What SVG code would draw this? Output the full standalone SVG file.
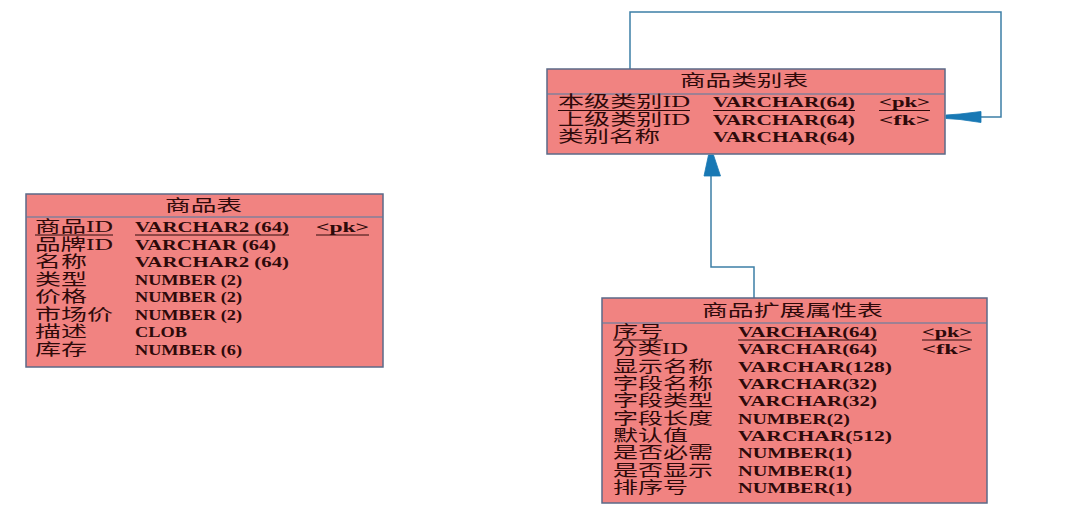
<svg xmlns="http://www.w3.org/2000/svg" width="1086" height="521" viewBox="0 0 1086 521">
<style>
.box{fill:#f18381;stroke:#5b6a88;stroke-width:1.5}
.sep{stroke:#4f7ea6;stroke-width:1.2}
.t{font-family:"Liberation Serif","Noto Sans CJK SC",serif;font-size:16px;fill:#2e0a0a}
.ty{font-family:"Liberation Serif","Noto Sans CJK SC",serif;font-size:15px;font-weight:bold;fill:#2e0a0a}
.h{font-family:"Noto Sans CJK SC",sans-serif;font-size:16px;fill:#2e0a0a}
.ul{stroke:#2e0a0a;stroke-width:1}
.c{fill:none;stroke:#3d7fa6;stroke-width:1.5}
.ah{fill:#1878b4;stroke:#1878b4;stroke-width:0.8}
</style>
<rect width="1086" height="521" fill="#ffffff"/>
<g id="connectors">
<path class="c" d="M630,69 V12 H1001 V117 H946"/>
<path class="c" d="M754,298 V267 H711 V155"/>
<polygon class="ah" points="946,115 960,114 981,111.5 981,122.5 960,119.5 946,118.5"/>
<polygon class="ah" points="708.5,155 713.5,155 720.5,176 704,176"/>
</g>
<g id="goods">
<rect class="box" x="26" y="194" width="357" height="173"/>
<line class="sep" x1="26" y1="217" x2="383" y2="217"/>
<text class="h" x="165" y="211" textLength="77" lengthAdjust="spacingAndGlyphs">商品表</text>
<text class="t" x="35" y="232" textLength="78" lengthAdjust="spacingAndGlyphs">商品ID</text>
<text class="ty" x="135" y="232" textLength="154" lengthAdjust="spacingAndGlyphs">VARCHAR2 (64)</text>
<text class="ty" x="316" y="232" textLength="53" lengthAdjust="spacingAndGlyphs">&lt;pk&gt;</text>
<line class="ul" x1="35" y1="235" x2="113" y2="235"/>
<line class="ul" x1="135" y1="235" x2="289" y2="235"/>
<line class="ul" x1="316" y1="235" x2="369" y2="235"/>
<text class="t" x="35" y="249.5" textLength="78" lengthAdjust="spacingAndGlyphs">品牌ID</text>
<text class="ty" x="135" y="249.5" textLength="141" lengthAdjust="spacingAndGlyphs">VARCHAR (64)</text>
<text class="t" x="35" y="267" textLength="52" lengthAdjust="spacingAndGlyphs">名称</text>
<text class="ty" x="135" y="267" textLength="154" lengthAdjust="spacingAndGlyphs">VARCHAR2 (64)</text>
<text class="t" x="35" y="284.5" textLength="52" lengthAdjust="spacingAndGlyphs">类型</text>
<text class="ty" x="135" y="284.5" textLength="107" lengthAdjust="spacingAndGlyphs">NUMBER (2)</text>
<text class="t" x="35" y="302" textLength="52" lengthAdjust="spacingAndGlyphs">价格</text>
<text class="ty" x="135" y="302" textLength="107" lengthAdjust="spacingAndGlyphs">NUMBER (2)</text>
<text class="t" x="35" y="319.5" textLength="78" lengthAdjust="spacingAndGlyphs">市场价</text>
<text class="ty" x="135" y="319.5" textLength="107" lengthAdjust="spacingAndGlyphs">NUMBER (2)</text>
<text class="t" x="35" y="337" textLength="52" lengthAdjust="spacingAndGlyphs">描述</text>
<text class="ty" x="135" y="337" textLength="52" lengthAdjust="spacingAndGlyphs">CLOB</text>
<text class="t" x="35" y="354.5" textLength="52" lengthAdjust="spacingAndGlyphs">库存</text>
<text class="ty" x="135" y="354.5" textLength="107" lengthAdjust="spacingAndGlyphs">NUMBER (6)</text>
</g>
<g id="category">
<rect class="box" x="547" y="69" width="398" height="85"/>
<line class="sep" x1="547" y1="94" x2="945" y2="94"/>
<text class="h" x="680" y="86" textLength="128" lengthAdjust="spacingAndGlyphs">商品类别表</text>
<text class="t" x="558" y="107" textLength="132" lengthAdjust="spacingAndGlyphs">本级类别ID</text>
<text class="ty" x="713" y="107" textLength="142" lengthAdjust="spacingAndGlyphs">VARCHAR(64)</text>
<text class="ty" x="879" y="107" textLength="51" lengthAdjust="spacingAndGlyphs">&lt;pk&gt;</text>
<line class="ul" x1="558" y1="110.5" x2="690" y2="110.5"/>
<line class="ul" x1="713" y1="110.5" x2="855" y2="110.5"/>
<line class="ul" x1="879" y1="110.5" x2="930" y2="110.5"/>
<text class="t" x="558" y="124.5" textLength="132" lengthAdjust="spacingAndGlyphs">上级类别ID</text>
<text class="ty" x="713" y="124.5" textLength="142" lengthAdjust="spacingAndGlyphs">VARCHAR(64)</text>
<text class="ty" x="879" y="124.5" textLength="51" lengthAdjust="spacingAndGlyphs">&lt;fk&gt;</text>
<text class="t" x="558" y="142" textLength="102" lengthAdjust="spacingAndGlyphs">类别名称</text>
<text class="ty" x="713" y="142" textLength="142" lengthAdjust="spacingAndGlyphs">VARCHAR(64)</text>
</g>
<g id="attributes">
<rect class="box" x="602" y="298" width="385" height="205"/>
<line class="sep" x1="602" y1="323" x2="987" y2="323"/>
<text class="h" x="702" y="316" textLength="181" lengthAdjust="spacingAndGlyphs">商品扩展属性表</text>
<text class="t" x="613" y="337" textLength="50" lengthAdjust="spacingAndGlyphs">序号</text>
<text class="ty" x="738" y="337" textLength="139" lengthAdjust="spacingAndGlyphs">VARCHAR(64)</text>
<text class="ty" x="922" y="337" textLength="50" lengthAdjust="spacingAndGlyphs">&lt;pk&gt;</text>
<line class="ul" x1="613" y1="340" x2="663" y2="340"/>
<line class="ul" x1="738" y1="340" x2="877" y2="340"/>
<line class="ul" x1="922" y1="340" x2="972" y2="340"/>
<text class="t" x="613" y="354.3" textLength="75" lengthAdjust="spacingAndGlyphs">分类ID</text>
<text class="ty" x="738" y="354.3" textLength="139" lengthAdjust="spacingAndGlyphs">VARCHAR(64)</text>
<text class="ty" x="922" y="354.3" textLength="50" lengthAdjust="spacingAndGlyphs">&lt;fk&gt;</text>
<text class="t" x="613" y="371.7" textLength="100" lengthAdjust="spacingAndGlyphs">显示名称</text>
<text class="ty" x="738" y="371.7" textLength="154" lengthAdjust="spacingAndGlyphs">VARCHAR(128)</text>
<text class="t" x="613" y="389" textLength="100" lengthAdjust="spacingAndGlyphs">字段名称</text>
<text class="ty" x="738" y="389" textLength="139" lengthAdjust="spacingAndGlyphs">VARCHAR(32)</text>
<text class="t" x="613" y="406.3" textLength="100" lengthAdjust="spacingAndGlyphs">字段类型</text>
<text class="ty" x="738" y="406.3" textLength="139" lengthAdjust="spacingAndGlyphs">VARCHAR(32)</text>
<text class="t" x="613" y="423.7" textLength="100" lengthAdjust="spacingAndGlyphs">字段长度</text>
<text class="ty" x="738" y="423.7" textLength="112" lengthAdjust="spacingAndGlyphs">NUMBER(2)</text>
<text class="t" x="613" y="441" textLength="75" lengthAdjust="spacingAndGlyphs">默认值</text>
<text class="ty" x="738" y="441" textLength="154" lengthAdjust="spacingAndGlyphs">VARCHAR(512)</text>
<text class="t" x="613" y="458.3" textLength="100" lengthAdjust="spacingAndGlyphs">是否必需</text>
<text class="ty" x="738" y="458.3" textLength="114" lengthAdjust="spacingAndGlyphs">NUMBER(1)</text>
<text class="t" x="613" y="475.7" textLength="100" lengthAdjust="spacingAndGlyphs">是否显示</text>
<text class="ty" x="738" y="475.7" textLength="114" lengthAdjust="spacingAndGlyphs">NUMBER(1)</text>
<text class="t" x="613" y="493" textLength="75" lengthAdjust="spacingAndGlyphs">排序号</text>
<text class="ty" x="738" y="493" textLength="114" lengthAdjust="spacingAndGlyphs">NUMBER(1)</text>
</g>
</svg>
